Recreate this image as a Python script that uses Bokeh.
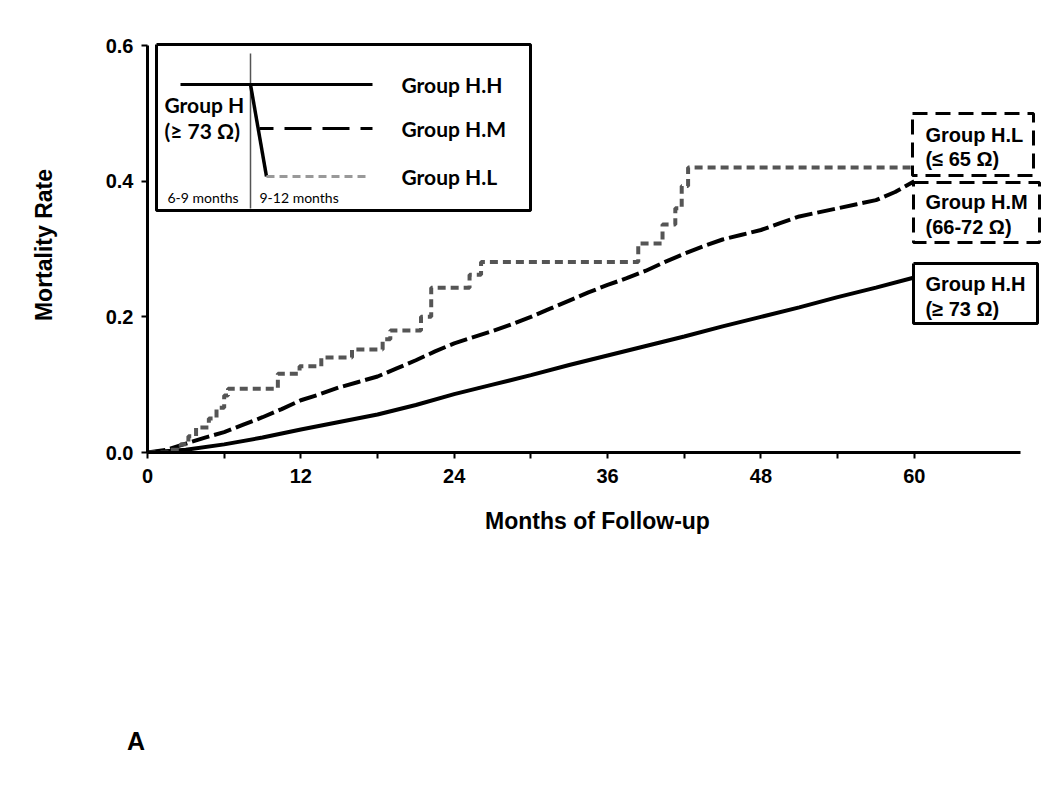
from bokeh.plotting import figure
from bokeh.models import Range1d, FixedTicker, Label, Div
from bokeh.layouts import column
from bokeh.embed import file_html
from bokeh.resources import INLINE

# ---------------- data ----------------
months_hh = [0, 3, 6, 9, 12, 15, 18, 21, 24, 27, 30, 33, 36, 39, 42, 45, 48, 51, 54, 57, 60]
rate_hh = [0.0, 0.004, 0.012, 0.022, 0.034, 0.045, 0.056, 0.070, 0.086, 0.100, 0.114, 0.129,
           0.143, 0.157, 0.171, 0.186, 0.200, 0.214, 0.229, 0.243, 0.258]

months_hm = [0, 1.5, 3, 4.5, 6, 7.5, 9, 10.5, 12, 13.5, 15, 16.5, 18, 19.5, 21, 22.5, 24, 25.5, 27,
             28.5, 30, 31.5, 33, 34.5, 36, 37.5, 39, 40.5, 42, 43.5, 45, 46.5, 48, 49.5, 51, 52.5,
             54, 55.5, 57, 58.5, 60]
rate_hm = [0.0, 0.004, 0.013, 0.022, 0.030, 0.041, 0.052, 0.064, 0.077, 0.086, 0.096, 0.104,
           0.112, 0.124, 0.136, 0.149, 0.161, 0.170, 0.179, 0.189, 0.200, 0.212, 0.224, 0.236,
           0.247, 0.257, 0.268, 0.281, 0.293, 0.304, 0.314, 0.321, 0.328, 0.338, 0.348, 0.354,
           0.360, 0.366, 0.372, 0.384, 0.400]

months_hl = [0, 1.8, 2.6, 3.2, 3.8, 4.8, 5.4, 6.0, 6.3, 10.2, 11.9, 13.6, 16.0, 18.4, 19.0,
             21.4, 22.2, 25.2, 26.1, 38.4, 40.3, 41.3, 41.8, 42.3, 60]
rate_hl = [0.0, 0.004, 0.012, 0.024, 0.037, 0.050, 0.066, 0.084, 0.094, 0.116, 0.127, 0.140,
           0.152, 0.167, 0.180, 0.200, 0.243, 0.262, 0.281, 0.308, 0.336, 0.360, 0.393, 0.420,
           0.420]

x_ticks = [0, 12, 24, 36, 48, 60]
x_minor = [6, 18, 30, 42, 54]
y_ticks = [0.0, 0.2, 0.4, 0.6]

# --------------- layout helpers (screen px of the reference -> data) ---------------
PX_LEFT, PX_PER_MONTH = 147.0, 12.78
PX_BOTTOM, PX_PER_UNIT = 452.0, 407.0 / 0.6


def mx(px):
    return (px - PX_LEFT) / PX_PER_MONTH


def vy(py):
    return (PX_BOTTOM - py) / PX_PER_UNIT


FRAME_W, FRAME_H = 900, 415
TOP = int(PX_BOTTOM) - FRAME_H
X_END = FRAME_W / PX_PER_MONTH
p = figure(width=1048, height=700, output_backend="svg", toolbar_location=None,
           x_range=Range1d(0, X_END), y_range=Range1d(0, FRAME_H / PX_PER_UNIT),
           min_border_left=int(PX_LEFT), min_border_right=1, min_border_top=TOP,
           min_border_bottom=700 - int(PX_BOTTOM))
p.outline_line_color = None
p.xgrid.visible = False
p.ygrid.visible = False
p.background_fill_color = "white"

AX_FONT = "Liberation Sans"
for ax in (p.xaxis[0], p.yaxis[0]):
    ax.axis_line_width = 3
    ax.axis_line_color = "black"
    ax.major_tick_line_width = 2
    ax.major_tick_line_color = "black"
    ax.major_tick_in = 0
    ax.major_tick_out = 6
    ax.major_label_text_font = AX_FONT
    ax.major_label_text_font_style = "bold"
    ax.major_label_text_font_size = "20px"
    ax.major_label_text_color = "black"
    ax.axis_label_text_font = AX_FONT
    ax.axis_label_text_font_style = "bold"
    ax.axis_label_text_font_size = "23px"
    ax.axis_label_text_color = "black"

p.xaxis.ticker = FixedTicker(ticks=x_ticks, minor_ticks=x_minor)
p.xaxis.bounds = (0, 68.3)
p.xaxis.minor_tick_in = 0
p.xaxis.minor_tick_out = 6
p.xaxis.minor_tick_line_width = 2
p.xaxis.minor_tick_line_color = "black"
p.xaxis.major_label_standoff = 10
p.xaxis.axis_label = "Months of Follow-up"
p.xaxis.axis_label_standoff = 22

p.yaxis.ticker = FixedTicker(ticks=y_ticks, minor_ticks=[])
p.yaxis.bounds = (0, 0.6)
p.yaxis.minor_tick_line_color = None
p.yaxis.major_label_standoff = 8
p.yaxis.major_label_overrides = {0.0: "0.0", 0.2: "0.2", 0.4: "0.4", 0.6: "0.6"}
p.yaxis.axis_label = "Mortality Rate"
p.yaxis.axis_label_standoff = 46

# ---------------- curves ----------------
p.line(months_hh, rate_hh, line_color="black", line_width=4)
p.line(months_hm, rate_hm, line_color="black", line_width=4, line_dash="18 5")
p.step(months_hl, rate_hl, mode="after", line_color="#555555", line_width=4, line_dash="8 5")

# ---------------- right-hand boxes ----------------
def box(l, r, t, b, dash):
    xs = [mx(l), mx(r), mx(r), mx(l), mx(l)]
    ys = [vy(t), vy(t), vy(b), vy(b), vy(t)]
    p.line(xs, ys, line_color="black", line_width=3, line_dash=dash)


box(912, 1033, 113, 175, "15 8")
box(913, 1039, 182, 242, "15 8")
box(913, 1037, 263, 323, "solid")

BOX_FONT = "Liberation Sans"


def label(text, px, py, font, size, style="bold", align="left", color="black"):
    p.add_layout(Label(x=mx(px), y=vy(py), text=text, text_font=font, text_font_size=size,
                       text_font_style=style, text_align=align, text_baseline="middle",
                       text_color=color))


label("Group H.L", 925, 134, BOX_FONT, "20px")
label("(\u2264 65 \u03a9)", 925, 158, BOX_FONT, "20px")
label("Group H.M", 925, 201, BOX_FONT, "20px")
label("(66-72 \u03a9)", 925, 226, BOX_FONT, "20px")
label("Group H.H", 925, 283, BOX_FONT, "20px")
label("(\u2265 73 \u03a9)", 925, 308, BOX_FONT, "20px")

# ---------------- legend panel ----------------
box(156, 530, 44, 210, "solid")
p.line([mx(250), mx(250)], [vy(53), vy(208)], line_color="#555555", line_width=1.5)
p.line([mx(180), mx(372)], [vy(84), vy(84)], line_color="black", line_width=3)
p.line([mx(250), mx(266)], [vy(84), vy(176)], line_color="black", line_width=3.5)
p.line([mx(259), mx(372)], [vy(128), vy(128)], line_color="black", line_width=3,
       line_dash="27 11", line_dash_offset=13)
p.line([mx(266), mx(370)], [vy(176), vy(176)], line_color="#999999", line_width=3,
       line_dash="8 5")

LEG_FONT = "Lato"
label("Group H.H", 401, 84, LEG_FONT, "21px")
label("Group H.M", 401, 128, LEG_FONT, "21px")
label("Group H.L", 401, 176, LEG_FONT, "21px")
label("Group H", 164, 104, LEG_FONT, "21px")
label("(\u2265 73 \u03a9)", 164, 130, LEG_FONT, "21px")
label("6-9 months", 167, 197, LEG_FONT, "14px", style="normal")
label("9-12 months", 259, 197, LEG_FONT, "14px", style="normal")

# ---------------- panel letter below the chart ----------------
letter = Div(text="A", width=60, height=40, margin=(26, 0, 0, 127),
             styles={"font-family": "Liberation Sans", "font-weight": "bold",
                     "font-size": "25px", "line-height": "30px", "color": "black"})

open("out.html", "w").write(file_html(column(p, letter, spacing=0), INLINE))
